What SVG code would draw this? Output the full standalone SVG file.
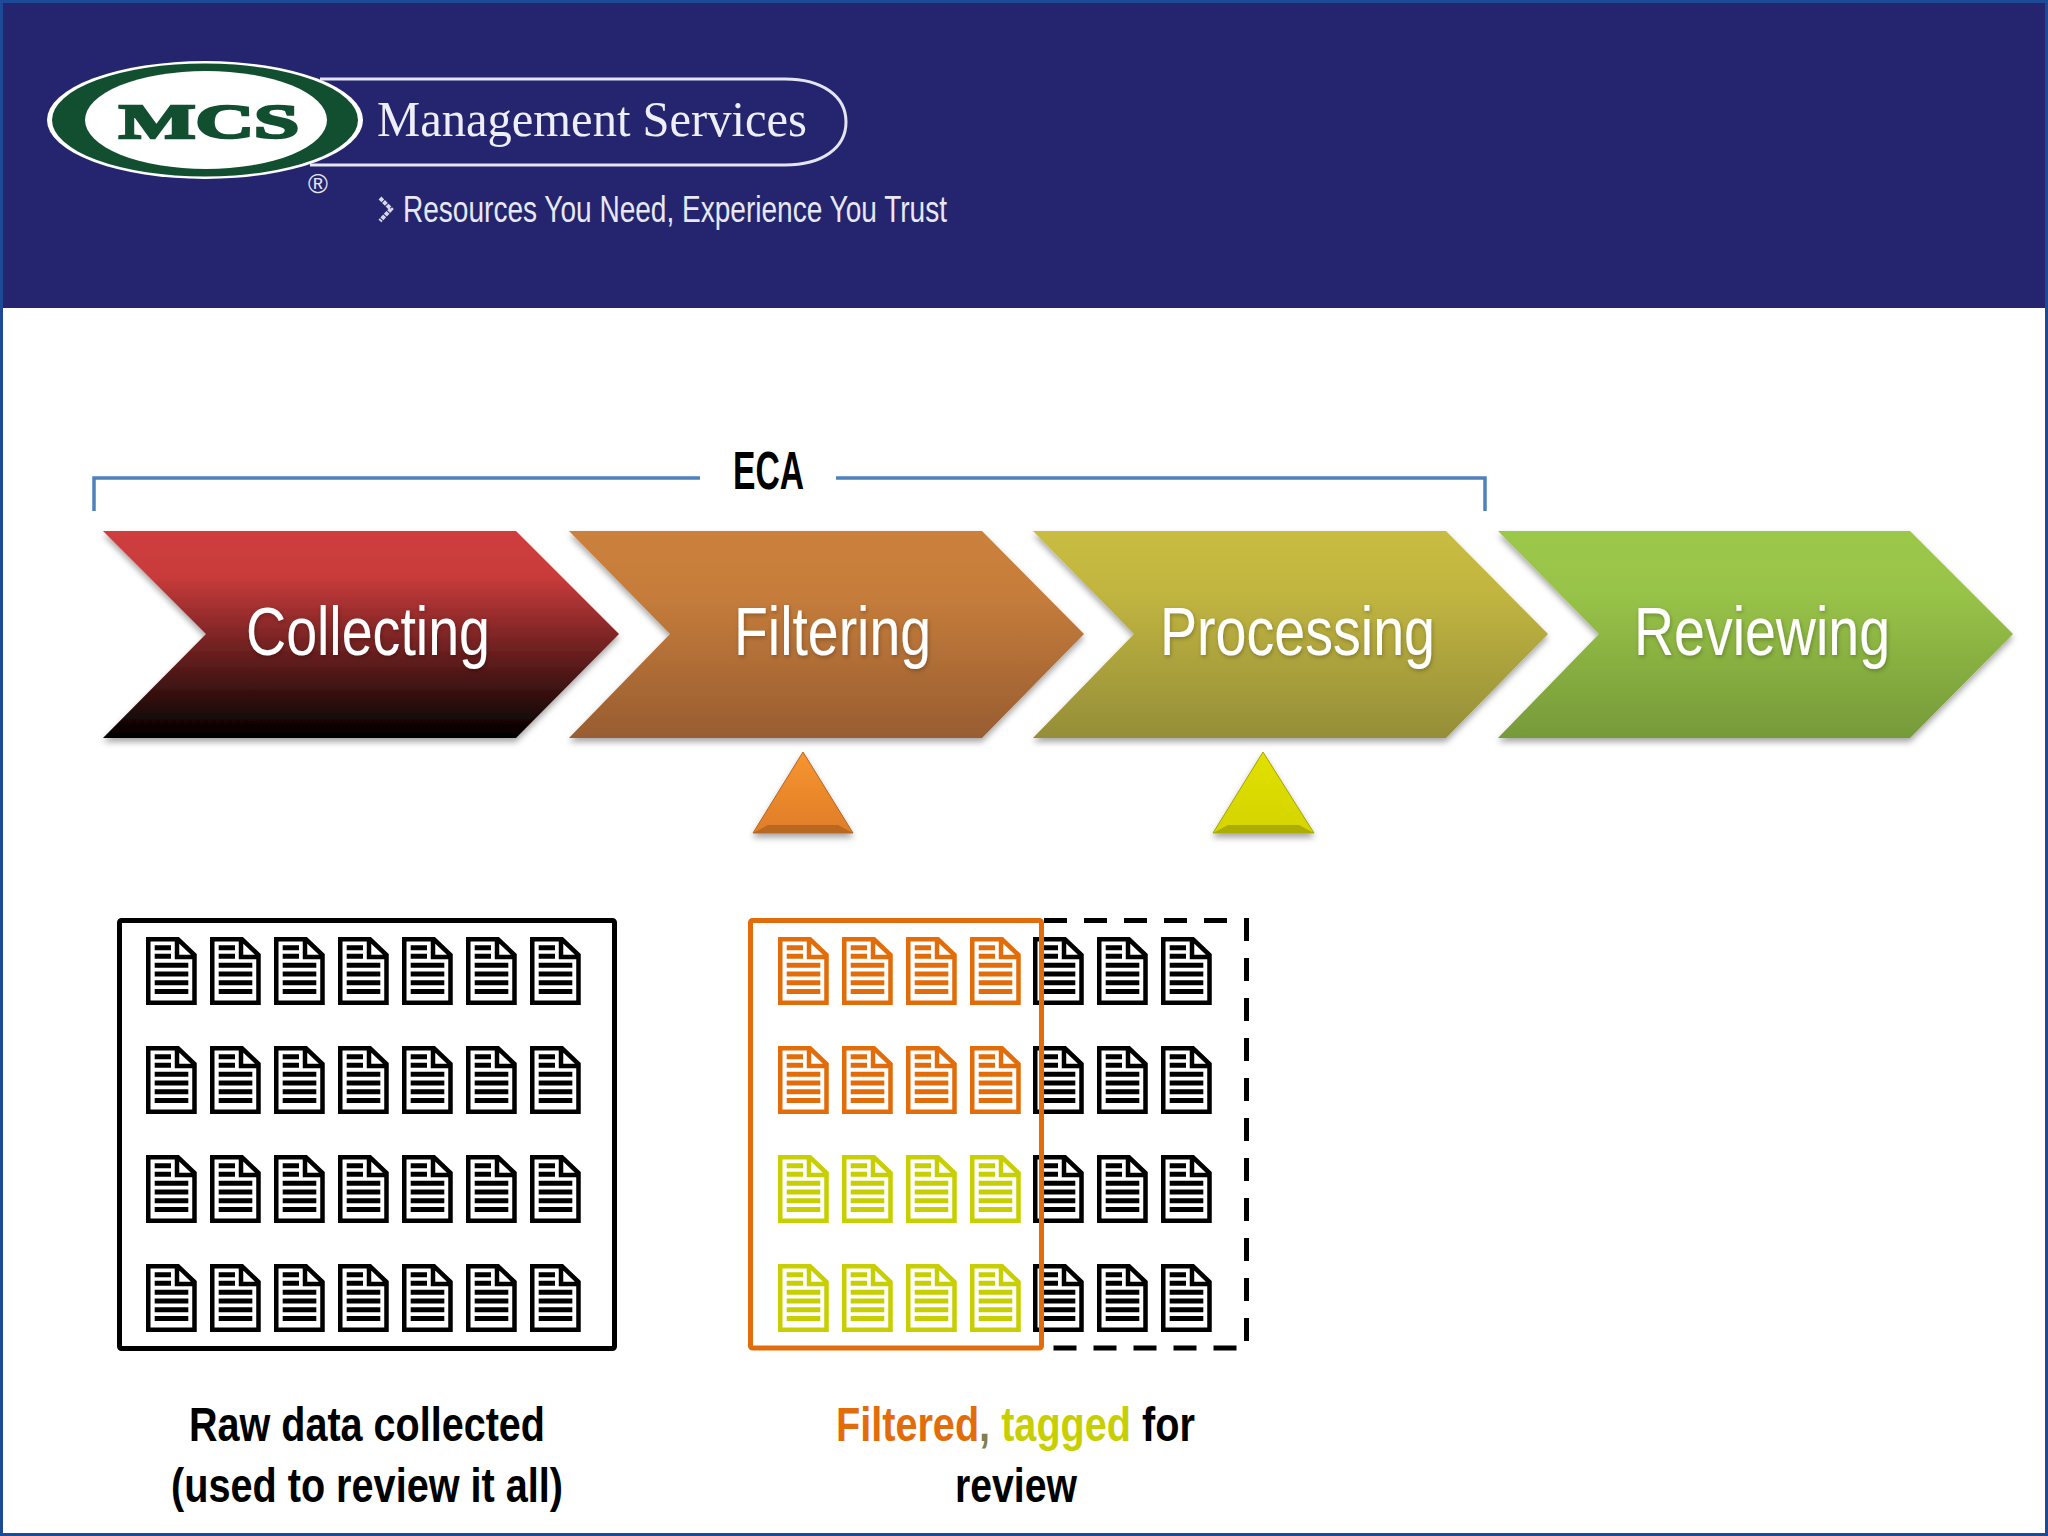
<svg xmlns="http://www.w3.org/2000/svg" xmlns:xlink="http://www.w3.org/1999/xlink" width="2048" height="1536" viewBox="0 0 2048 1536">
<style>
.chev{filter:url(#sh)}
.lbl{font-family:"Liberation Sans",Arial,sans-serif;font-size:68px;fill:#fff;text-anchor:start;filter:url(#ts)}
.cap{font-family:"Liberation Sans",Arial,sans-serif;font-weight:bold;font-size:49px;fill:#000}
.k{color:#000}.o{color:#e36c0a}.y{color:#c8cf00}
</style>
<defs>
<linearGradient id="g1" x1="0" y1="0" x2="0" y2="1"><stop offset="0" stop-color="#cf3d3d"/><stop offset=".22" stop-color="#c93b3b"/><stop offset="1" stop-color="#000"/></linearGradient>
<linearGradient id="g2" x1="0" y1="0" x2="0" y2="1"><stop offset="0" stop-color="#cb813c"/><stop offset=".3" stop-color="#c67d3b"/><stop offset="1" stop-color="#985d31"/></linearGradient>
<linearGradient id="g3" x1="0" y1="0" x2="0" y2="1"><stop offset="0" stop-color="#c8bc42"/><stop offset=".3" stop-color="#c1b540"/><stop offset="1" stop-color="#958e38"/></linearGradient>
<linearGradient id="g4" x1="0" y1="0" x2="0" y2="1"><stop offset="0" stop-color="#9cc84a"/><stop offset=".3" stop-color="#98c348"/><stop offset="1" stop-color="#769a39"/></linearGradient>
<linearGradient id="to" x1="0" y1="0" x2="0" y2="1"><stop offset="0" stop-color="#f79530"/><stop offset="1" stop-color="#e07d28"/></linearGradient>
<linearGradient id="ty" x1="0" y1="0" x2="0" y2="1"><stop offset="0" stop-color="#e2e000"/><stop offset="1" stop-color="#d4d400"/></linearGradient>
<filter id="sh" x="-5%" y="-5%" width="110%" height="120%"><feDropShadow dx="0" dy="4" stdDeviation="3" flood-color="#000" flood-opacity=".35"/></filter>
<filter id="ts" x="-5%" y="-10%" width="110%" height="125%"><feDropShadow dx="1" dy="2" stdDeviation="2" flood-color="#000" flood-opacity=".25"/></filter>
<g id="doc">
<path d="M2.25 2.25H32L48.5 18V65.75H2.25Z M31 2.25V20H48.5" fill="#fff" stroke="currentColor" stroke-width="4.5"/>
<path d="M8.7 10.7H25M8.7 19.3H25M8.7 28.3H42.3M8.7 37H42.3M8.7 45.7H42.3M8.7 54.5H42.3" fill="none" stroke="currentColor" stroke-width="4.9"/>
</g>
</defs>
<rect width="2048" height="308" fill="#25256f"/>
<rect y="308" width="2048" height="1228" fill="#fff"/>
<g id="header">
<g id="logo">
<path d="M320 79H785C822 79 846 96 846 122C846 148 822 165 785 165H310" fill="none" stroke="#e4e4f2" stroke-width="3"/>
<ellipse cx="205" cy="120" rx="158" ry="59" fill="#fff"/>
<ellipse cx="205" cy="120" rx="153" ry="56.500" fill="#124f30"/>
<ellipse cx="206" cy="120" rx="121" ry="49" fill="#fff"/>
<text x="119" y="138" font-family="'Liberation Serif',serif" font-weight="bold" font-size="48" fill="#124f30" stroke="#124f30" stroke-width="2.500" textLength="180" lengthAdjust="spacingAndGlyphs">MCS</text>
<text x="377" y="136" font-family="'Liberation Serif',serif" font-size="50" fill="#eeeef8" textLength="430" lengthAdjust="spacingAndGlyphs">Management Services</text>
<text x="318" y="193" text-anchor="middle" font-family="'Liberation Sans',sans-serif" font-size="27" fill="#e4e4f2">®</text>
<path d="M380 198L391 209L380 221" fill="none" stroke="#d8d8ec" stroke-width="4" stroke-dasharray="4 1"/>
<text x="403" y="222" font-family="'Liberation Sans',sans-serif" font-size="36" fill="#e8e8f4" textLength="544" lengthAdjust="spacingAndGlyphs">Resources You Need, Experience You Trust</text>
</g>
</g>
<rect x="1.500" y="1.500" width="2045" height="1533" fill="none" stroke="#1d4a96" stroke-width="3"/>
<g id="connectors">
<path d="M94 511V478H700M836 478H1485V511" fill="none" stroke="#4f81bd" stroke-width="3.500"/>
</g>
<text id="eca" x="733" y="489" class="cap" style="font-size:53px" textLength="71" lengthAdjust="spacingAndGlyphs">ECA</text>
<g id="collecting"><path class="chev" fill="url(#g1)" d="M103 531H516L619 634L516 738H103L206 634Z"/><text class="lbl" x="246" y="655" textLength="244" lengthAdjust="spacingAndGlyphs">Collecting</text></g>
<g id="filtering"><path class="chev" fill="url(#g2)" d="M569 531H982L1084 634L982 738H569L670 634Z"/><text class="lbl" x="734" y="655" textLength="197" lengthAdjust="spacingAndGlyphs">Filtering</text></g>
<g id="processing"><path class="chev" fill="url(#g3)" d="M1033 531H1446L1548 634L1446 738H1033L1134 634Z"/><text class="lbl" x="1160" y="655" textLength="275" lengthAdjust="spacingAndGlyphs">Processing</text></g>
<g id="reviewing"><path class="chev" fill="url(#g4)" d="M1498 531H1910L2013 634L1910 738H1498L1599 634Z"/><text class="lbl" x="1634" y="655" textLength="256" lengthAdjust="spacingAndGlyphs">Reviewing</text></g>
<g id="marker-orange"><path class="chev" d="M803 752L853 833H753Z" fill="url(#to)" stroke="#b5651d" stroke-width="1"/><path d="M753 833L768 825H838L853 833Z" fill="#b9691f"/></g>
<g id="marker-yellow"><path class="chev" d="M1263 752L1314 833H1213Z" fill="url(#ty)" stroke="#a3a500" stroke-width="1"/><path d="M1213 833L1228 825H1299L1314 833Z" fill="#adad00"/></g>
<g id="raw-box">
<rect x="119.500" y="920.500" width="495" height="428" rx="2" fill="#fff" stroke="#000" stroke-width="5"/>
<g class="k">
<use href="#doc" x="146" y="937"/><use href="#doc" x="210" y="937"/><use href="#doc" x="274" y="937"/><use href="#doc" x="338" y="937"/><use href="#doc" x="402" y="937"/><use href="#doc" x="466" y="937"/><use href="#doc" x="530" y="937"/>
<use href="#doc" x="146" y="1046"/><use href="#doc" x="210" y="1046"/><use href="#doc" x="274" y="1046"/><use href="#doc" x="338" y="1046"/><use href="#doc" x="402" y="1046"/><use href="#doc" x="466" y="1046"/><use href="#doc" x="530" y="1046"/>
<use href="#doc" x="146" y="1155"/><use href="#doc" x="210" y="1155"/><use href="#doc" x="274" y="1155"/><use href="#doc" x="338" y="1155"/><use href="#doc" x="402" y="1155"/><use href="#doc" x="466" y="1155"/><use href="#doc" x="530" y="1155"/>
<use href="#doc" x="146" y="1264"/><use href="#doc" x="210" y="1264"/><use href="#doc" x="274" y="1264"/><use href="#doc" x="338" y="1264"/><use href="#doc" x="402" y="1264"/><use href="#doc" x="466" y="1264"/><use href="#doc" x="530" y="1264"/>
</g>
</g>
<g id="filtered-box">
<path d="M1044 920.500H1246.500V1348H1044" fill="none" stroke="#000" stroke-width="5" stroke-dasharray="23 17"/>
<g class="k">
<use href="#doc" x="1033" y="937"/><use href="#doc" x="1097" y="937"/><use href="#doc" x="1161" y="937"/>
<use href="#doc" x="1033" y="1046"/><use href="#doc" x="1097" y="1046"/><use href="#doc" x="1161" y="1046"/>
<use href="#doc" x="1033" y="1155"/><use href="#doc" x="1097" y="1155"/><use href="#doc" x="1161" y="1155"/>
<use href="#doc" x="1033" y="1264"/><use href="#doc" x="1097" y="1264"/><use href="#doc" x="1161" y="1264"/>
</g>
<g class="o">
<use href="#doc" x="778" y="937"/><use href="#doc" x="842" y="937"/><use href="#doc" x="906" y="937"/><use href="#doc" x="970" y="937"/>
<use href="#doc" x="778" y="1046"/><use href="#doc" x="842" y="1046"/><use href="#doc" x="906" y="1046"/><use href="#doc" x="970" y="1046"/>
</g>
<g class="y">
<use href="#doc" x="778" y="1155"/><use href="#doc" x="842" y="1155"/><use href="#doc" x="906" y="1155"/><use href="#doc" x="970" y="1155"/>
<use href="#doc" x="778" y="1264"/><use href="#doc" x="842" y="1264"/><use href="#doc" x="906" y="1264"/><use href="#doc" x="970" y="1264"/>
</g>
<rect x="750.500" y="920.500" width="291" height="427.500" rx="2" fill="none" stroke="#e36c0a" stroke-width="5"/>
</g>
<g id="captions">
<text class="cap" x="189" y="1441" textLength="356" lengthAdjust="spacingAndGlyphs">Raw data collected</text>
<text class="cap" x="171" y="1502" textLength="392" lengthAdjust="spacingAndGlyphs">(used to review it all)</text>
<text class="cap" transform="translate(836 1441) scale(.809 1)"><tspan fill="#e36c0a">Filtered</tspan><tspan fill="#7f7f50">, </tspan><tspan fill="#c8cf00">tagged</tspan><tspan> for</tspan></text>
<text class="cap" x="955" y="1502" textLength="122" lengthAdjust="spacingAndGlyphs">review</text>
</g>
</svg>
